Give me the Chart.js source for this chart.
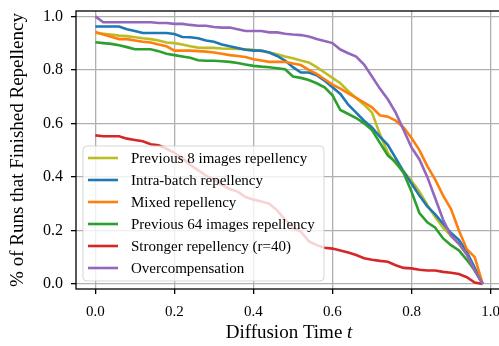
<!DOCTYPE html>
<html>
<head>
<meta charset="utf-8">
<script src="https://cdn.jsdelivr.net/npm/chart.js@4.4.0/dist/chart.umd.min.js"></script>
<style>
  html, body { margin: 0; padding: 0; background: #fff; overflow: hidden; }
  #wrap { width: 506px; height: 346px; }
</style>
</head>
<body>
<div id="wrap"><canvas id="chart" width="506" height="346"></canvas></div>
<script>
// diffusion time steps
const times = [0.00, 0.02, 0.04, 0.06, 0.08, 0.10, 0.12, 0.14, 0.16, 0.18,
  0.20, 0.22, 0.24, 0.26, 0.28, 0.30, 0.32, 0.34, 0.36, 0.38,
  0.40, 0.42, 0.44, 0.46, 0.48, 0.50, 0.52, 0.54, 0.56, 0.58,
  0.60, 0.62, 0.64, 0.66, 0.68, 0.70, 0.72, 0.74, 0.76, 0.78,
  0.80, 0.82, 0.84, 0.86, 0.88, 0.90, 0.92, 0.94, 0.96, 0.98];

const prev8 = [0.938, 0.935, 0.932, 0.928, 0.926, 0.922, 0.918, 0.915, 0.910, 0.902,
  0.900, 0.895, 0.888, 0.883, 0.882, 0.882, 0.880, 0.879, 0.878, 0.877,
  0.875, 0.870, 0.865, 0.858, 0.850, 0.843, 0.835, 0.828, 0.810, 0.790,
  0.770, 0.750, 0.720, 0.695, 0.670, 0.640, 0.560, 0.490, 0.450, 0.420,
  0.385, 0.345, 0.295, 0.250, 0.210, 0.180, 0.150, 0.110, 0.055, 0.000];

const intraBatch = [0.962, 0.962, 0.962, 0.962, 0.952, 0.945, 0.938, 0.938, 0.938, 0.938,
  0.934, 0.923, 0.922, 0.918, 0.910, 0.905, 0.895, 0.888, 0.882, 0.875,
  0.872, 0.872, 0.865, 0.852, 0.835, 0.810, 0.790, 0.790, 0.780, 0.760,
  0.735, 0.710, 0.670, 0.640, 0.610, 0.585, 0.550, 0.520, 0.470, 0.420,
  0.375, 0.330, 0.290, 0.260, 0.225, 0.190, 0.165, 0.120, 0.060, 0.000];

const mixed = [0.942, 0.932, 0.924, 0.915, 0.915, 0.910, 0.905, 0.902, 0.895, 0.888,
  0.872, 0.872, 0.872, 0.870, 0.868, 0.865, 0.860, 0.855, 0.852, 0.848,
  0.840, 0.835, 0.830, 0.830, 0.830, 0.824, 0.818, 0.800, 0.785, 0.765,
  0.745, 0.730, 0.712, 0.695, 0.678, 0.660, 0.630, 0.625, 0.610, 0.585,
  0.545, 0.500, 0.440, 0.390, 0.330, 0.280, 0.200, 0.130, 0.100, 0.000];

const prev64 = [0.903, 0.900, 0.897, 0.892, 0.885, 0.877, 0.877, 0.877, 0.870, 0.860,
  0.855, 0.850, 0.845, 0.836, 0.834, 0.834, 0.832, 0.830, 0.826, 0.820,
  0.815, 0.812, 0.810, 0.806, 0.802, 0.775, 0.770, 0.762, 0.750, 0.735,
  0.705, 0.650, 0.635, 0.620, 0.600, 0.575, 0.527, 0.480, 0.455, 0.415,
  0.345, 0.265, 0.230, 0.210, 0.170, 0.145, 0.125, 0.090, 0.050, 0.000];

const stronger = [0.555, 0.552, 0.552, 0.552, 0.543, 0.538, 0.533, 0.522, 0.518, 0.505,
  0.490, 0.470, 0.445, 0.425, 0.405, 0.390, 0.370, 0.355, 0.345, 0.325,
  0.315, 0.308, 0.300, 0.275, 0.240, 0.210, 0.195, 0.160, 0.145, 0.135,
  0.132, 0.125, 0.117, 0.108, 0.096, 0.090, 0.086, 0.083, 0.070, 0.060,
  0.058, 0.053, 0.050, 0.050, 0.045, 0.042, 0.037, 0.025, 0.005, 0.000];

const overcomp = [1.000, 0.978, 0.978, 0.978, 0.978, 0.978, 0.978, 0.978, 0.975, 0.975,
  0.972, 0.972, 0.968, 0.965, 0.965, 0.960, 0.958, 0.958, 0.952, 0.945,
  0.945, 0.945, 0.940, 0.940, 0.935, 0.932, 0.930, 0.925, 0.915, 0.908,
  0.900, 0.876, 0.862, 0.850, 0.820, 0.775, 0.730, 0.690, 0.640, 0.575,
  0.510, 0.465, 0.400, 0.320, 0.240, 0.180, 0.150, 0.110, 0.050, 0.000];

const seriesNames = [
  "Previous 8 images repellency",
  "Intra-batch repellency",
  "Mixed repellency",
  "Previous 64 images repellency",
  "Stronger repellency (r=40)",
  "Overcompensation",
];
const seriesValues = [prev8, intraBatch, mixed, prev64, stronger, overcomp];
const seriesColors = ["#bcbd22", "#1f77b4", "#ff7f0e", "#2ca02c", "#d62728", "#9467bd"];

const xTicks = [0.0, 0.2, 0.4, 0.6, 0.8, 1.0];
const yTicks = [0.0, 0.2, 0.4, 0.6, 0.8, 1.0];

const FONT = "'Liberation Serif', 'Times New Roman', serif";

// matplotlib style legend inside the axes, plus frame and axis titles
const extras = {
  id: "extras",
  afterDatasetsDraw(chart) {
    const ctx = chart.ctx;
    const a = chart.chartArea;
    ctx.save();
    // frame
    ctx.strokeStyle = "#000";
    ctx.lineWidth = 1.3;
    ctx.strokeRect(a.left, a.top, a.right - a.left, a.bottom - a.top);

    // legend box
    const bx = 83, by = 146, bw = 241, bh = 135, r = 4;
    ctx.beginPath();
    ctx.roundRect(bx, by, bw, bh, r);
    ctx.fillStyle = "rgba(255,255,255,0.8)";
    ctx.fill();
    ctx.strokeStyle = "rgba(204,204,204,0.8)";
    ctx.lineWidth = 1;
    ctx.stroke();

    ctx.font = "15px " + FONT;
    ctx.textBaseline = "middle";
    ctx.textAlign = "left";
    seriesNames.forEach((name, i) => {
      const y = 158 + i * 22;
      ctx.strokeStyle = seriesColors[i];
      ctx.lineWidth = 2.6;
      ctx.beginPath();
      ctx.moveTo(88, y);
      ctx.lineTo(118, y);
      ctx.stroke();
      ctx.fillStyle = "#000";
      ctx.fillText(name, 131, y + 1);
    });

    // x title with italic t
    ctx.fillStyle = "#000";
    ctx.textBaseline = "alphabetic";
    const part1 = "Diffusion Time ";
    ctx.font = "19px " + FONT;
    const w1 = ctx.measureText(part1).width;
    ctx.font = "italic 19px " + FONT;
    const w2 = ctx.measureText("t").width;
    const cx = (a.left + a.right) / 2;
    const sx = cx - (w1 + w2) / 2;
    ctx.font = "19px " + FONT;
    ctx.fillText(part1, sx, 338);
    ctx.font = "italic 19px " + FONT;
    ctx.fillText("t", sx + w1, 338);

    // y title
    ctx.translate(18, (a.top + a.bottom) / 2);
    ctx.rotate(-Math.PI / 2);
    ctx.font = "19px " + FONT;
    ctx.textAlign = "center";
    ctx.textBaseline = "middle";
    ctx.fillText("% of Runs that Finished Repellency", 0, 0);
    ctx.restore();
  },
};

const datasets = seriesNames.map((name, i) => ({
  label: name,
  data: seriesValues[i],
  borderColor: seriesColors[i],
  backgroundColor: seriesColors[i],
  borderWidth: 2.6,
  pointRadius: 0,
  tension: 0,
  order: seriesNames.length - i,
}));

new Chart(document.getElementById("chart"), {
  type: "line",
  data: { labels: times, datasets: datasets },
  plugins: [extras],
  options: {
    responsive: false,
    animation: false,
    layout: { padding: { top: 11, right: 4, left: 0, bottom: 0 } },
    plugins: { legend: { display: false }, tooltip: { enabled: false } },
    scales: {
      x: {
        type: "linear",
        min: -0.049,
        max: 1.029,
        afterBuildTicks: (s) => { s.ticks = xTicks.map((v) => ({ value: v })); },
        afterFit: (s) => { s.height = 57; s.paddingLeft = 0; s.paddingRight = 0; },
        grid: { color: "#b0b0b0", lineWidth: 1.3, tickColor: "#000", tickLength: 5, tickWidth: 1.3 },
        border: { display: false },
        ticks: {
          maxRotation: 0,
          padding: 9,
          color: "#000",
          font: { family: FONT, size: 15 },
          callback: (v) => v.toFixed(1),
        },
      },
      y: {
        min: -0.019,
        max: 1.02,
        afterBuildTicks: (s) => { s.ticks = yTicks.map((v) => ({ value: v })); },
        afterFit: (s) => { s.width = 76; s.paddingTop = 0; s.paddingBottom = 0; },
        grid: { color: "#b0b0b0", lineWidth: 1.3, tickColor: "#000", tickLength: 5, tickWidth: 1.3 },
        border: { display: false },
        ticks: {
          padding: 8,
          color: "#000",
          font: { family: FONT, size: 16 },
          callback: (v) => v.toFixed(1),
        },
      },
    },
  },
});
</script>
</body>
</html>
